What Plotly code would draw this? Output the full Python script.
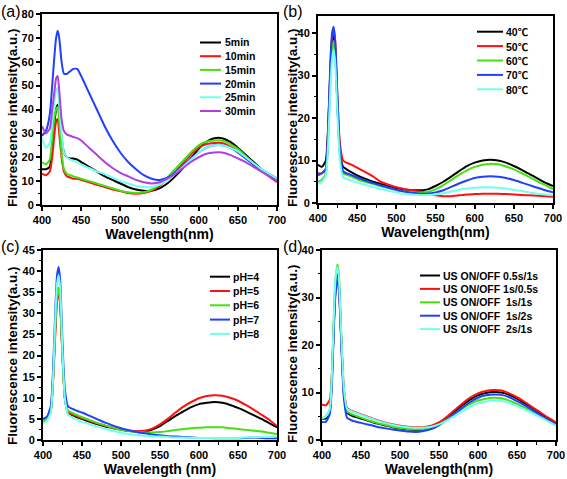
import plotly.graph_objects as go

W, H = 567, 479

# ---------------- data ----------------
wavelength = [400, 405, 410, 413, 416, 418, 420, 422, 425, 428, 432, 436, 440, 445, 450,
              460, 470, 480, 490, 500, 510, 520, 530, 540, 550, 560, 570, 580, 590, 600,
              610, 620, 630, 640, 650, 660, 670, 680, 690, 700]

# (a) reaction time
a_labels = ["5min", "10min", "15min", "20min", "25min", "30min"]
a_5min = [15, 15, 16, 25, 35, 40, 42, 38, 28, 22, 20, 19.5, 19.5, 19, 18,
          16, 14, 12, 10.5, 9, 7.5, 6.5, 6, 6, 7, 9, 12, 15.5, 19.5, 23.5,
          26.5, 28, 28, 26.5, 24, 21, 18, 15, 13, 11]
a_10min = [13, 12.5, 14, 20, 30, 35, 36, 30, 20, 14, 12, 11.5, 11, 11, 10.5,
           9.5, 8.5, 7.5, 6.5, 5.8, 5, 4.7, 5, 6, 8, 11, 14, 17.5, 21, 24,
           25.5, 26, 26, 24.5, 22.5, 20, 17, 14.5, 12, 9.5]
a_15min = [18, 17, 19, 28, 37, 40, 41, 35, 22, 15, 13, 12.5, 12, 11.5, 11,
           10, 9, 8, 7, 6, 5.3, 5, 5.3, 6.5, 8.5, 11.5, 15, 18.5, 22, 25,
           26.5, 27, 27, 25.5, 23.5, 20.5, 17.5, 15, 12.5, 10.5]
a_20min = [29, 31, 38, 50, 63, 70, 73, 70, 60, 55, 55, 56, 57, 57, 54,
           47, 40, 33, 27, 22, 18, 15, 12.5, 11, 10.5, 11.5, 13.5, 16.5, 19.5, 22,
           24, 25, 25, 24, 22, 19.5, 17, 14.5, 12.5, 10.5]
a_25min = [28, 24, 26, 35, 44, 48, 49, 42, 30, 22, 20, 19, 18.5, 18, 17,
           15.5, 14, 13, 11.5, 10, 9, 8, 7.5, 7.5, 8.5, 10.5, 13, 16, 19, 22,
           24, 25, 25, 24, 22.5, 20, 17.5, 15, 13, 11]
a_30min = [33, 30, 32, 40, 48, 53, 54, 48, 36, 31, 29.5, 29, 28.5, 28, 27,
           24, 21, 18, 15.5, 13.5, 12, 10.5, 9.5, 9, 9.5, 11, 13, 15.5, 18, 20,
           21.5, 22, 22, 21, 19.5, 18, 16, 14, 12, 10]
a_series = [a_5min, a_10min, a_15min, a_20min, a_25min, a_30min]

# (b) temperature
b_labels = ["40℃", "50℃", "60℃", "70℃", "80℃"]
b_40 = [9, 8.5, 10, 18, 32, 38, 40, 36, 22, 12, 8.5, 8, 7.5, 7, 6.5,
        5.7, 5, 4.5, 4, 3.5, 3.2, 3, 3, 3.2, 4, 5, 6.2, 7.5, 8.7, 9.5,
        10, 10.2, 10, 9.5, 8.7, 7.8, 6.8, 5.8, 4.8, 4]
b_50 = [7, 7, 8, 17, 33, 39, 41, 38, 24, 14, 10, 9.5, 9.2, 8.8, 8.3,
        7.3, 6.3, 5, 4.3, 3.7, 3.3, 3, 2.7, 2.3, 1.8, 1.6, 1.6, 1.8, 2, 2.1,
        2.2, 2.2, 2.2, 2.1, 2, 1.9, 1.8, 1.7, 1.6, 1.5]
b_60 = [5, 5.5, 7, 15, 30, 36, 38, 35, 22, 11, 7, 6.7, 6.4, 6, 5.6,
        5, 4.5, 4, 3.5, 3, 2.7, 2.5, 2.4, 2.6, 3.2, 4.2, 5.4, 6.6, 7.7, 8.5,
        9, 9.2, 9.1, 8.6, 7.9, 7, 6.1, 5.1, 4.2, 3.3]
b_70 = [6.5, 7, 8, 18, 34, 40, 41.5, 38, 24, 12, 7.5, 7, 6.8, 6.4, 6,
        5.3, 4.7, 4.1, 3.6, 3.1, 2.7, 2.4, 2.2, 2.2, 2.5, 3, 3.8, 4.6, 5.3, 5.9,
        6.2, 6.3, 6.2, 5.9, 5.4, 4.8, 4.2, 3.6, 3, 2.5]
b_80 = [4.5, 5, 6.5, 14, 28, 34, 36, 33, 20, 10, 6, 5.7, 5.4, 5.1, 4.8,
        4.3, 3.8, 3.3, 2.9, 2.5, 2.2, 2, 1.9, 1.9, 2, 2.3, 2.7, 3.1, 3.4, 3.6,
        3.7, 3.7, 3.6, 3.4, 3.1, 2.8, 2.5, 2.2, 2, 1.8]
b_series = [b_40, b_50, b_60, b_70, b_80]

# (c) pH
c_labels = ["pH=4", "pH=5", "pH=6", "pH=7", "pH=8"]
c_ph4 = [4.5, 5, 7, 15, 28, 34, 36, 33, 20, 10, 6.5, 6, 5.7, 5.3, 5,
         4.3, 3.7, 3.2, 2.8, 2.4, 2.1, 2, 2, 2.5, 3.3, 4.5, 5.7, 6.8, 7.8, 8.5,
         8.8, 9, 8.8, 8.3, 7.6, 6.8, 5.9, 5, 4, 3]
c_ph5 = [4.5, 5, 7, 14, 26, 33, 35, 32, 20, 10, 6.5, 6.2, 5.9, 5.5, 5.2,
         4.5, 3.9, 3.4, 2.9, 2.5, 2.2, 2.1, 2.2, 2.7, 3.7, 5, 6.5, 7.9, 9, 9.9,
         10.4, 10.6, 10.5, 10, 9.3, 8.3, 7.2, 6, 4.8, 3.3]
c_ph6 = [4.5, 5, 7, 15, 28, 34, 36, 33, 20, 10, 7, 6.6, 6.2, 5.8, 5.4,
         4.7, 4, 3.4, 2.9, 2.4, 2.1, 1.9, 1.8, 1.8, 1.9, 2.1, 2.4, 2.6, 2.8, 2.9,
         3, 3, 3, 2.8, 2.6, 2.4, 2.2, 2, 1.7, 1.4]
c_ph7 = [5, 5.5, 8, 17, 32, 39, 41, 38, 23, 12, 8, 7.5, 7.2, 6.8, 6.5,
         5.7, 4.9, 4.1, 3.4, 2.8, 2.3, 1.9, 1.6, 1.3, 1.1, 0.9, 0.8, 0.7, 0.6, 0.5,
         0.5, 0.4, 0.4, 0.4, 0.4, 0.5, 0.6, 0.5, 0.4, 0.4]
c_ph8 = [4, 4.5, 6.5, 15, 30, 37, 39, 36, 21, 10, 6, 5.5, 5.1, 4.7, 4.3,
         3.7, 3.1, 2.6, 2.1, 1.7, 1.4, 1.2, 1, 0.9, 0.8, 0.7, 0.6, 0.6, 0.5, 0.5,
         0.5, 0.5, 0.5, 0.5, 0.5, 0.6, 0.7, 0.7, 0.7, 0.8]
c_series = [c_ph4, c_ph5, c_ph6, c_ph7, c_ph8]

# (d) ultrasound on/off
d_labels = ["US ON/OFF 0.5s/1s", "US ON/OFF 1s/0.5s", "US ON/OFF \u00a01s/1s",
            "US ON/OFF \u00a01s/2s", "US ON/OFF \u00a02s/1s"]
d_05_1 = [4.5, 4.5, 6, 14, 28, 33, 35, 32, 20, 10, 5.8, 5.3, 5, 4.8, 4.5,
          4, 3.5, 3.1, 2.7, 2.4, 2.2, 2.1, 2.2, 2.6, 3.4, 4.6, 6, 7.3, 8.5, 9.4,
          9.9, 10.1, 10, 9.5, 8.7, 7.7, 6.7, 5.6, 4.5, 3.5]
d_1_05 = [7.5, 7.3, 8.5, 15, 28, 33, 34, 31, 20, 11, 6.8, 6.3, 6, 5.7, 5.4,
          4.8, 4.2, 3.7, 3.3, 3, 2.8, 2.7, 2.7, 3, 3.7, 4.9, 6.3, 7.7, 8.9, 9.8,
          10.3, 10.5, 10.4, 9.8, 9, 8, 6.9, 5.8, 4.7, 3.7]
d_1_1 = [4.5, 5, 6.5, 15, 30, 35, 37, 34, 21, 10, 6, 5.6, 5.3, 5, 4.7,
         4.1, 3.6, 3.2, 2.8, 2.5, 2.3, 2.2, 2.3, 2.6, 3.3, 4.3, 5.5, 6.6, 7.6, 8.3,
         8.7, 8.9, 8.8, 8.3, 7.6, 6.8, 5.9, 5, 4.1, 3.2]
d_1_2 = [3.8, 3.8, 5.5, 13, 27, 32, 34, 31, 19, 9, 4.7, 4.3, 4, 3.8, 3.6,
         3.2, 2.8, 2.5, 2.2, 2, 1.8, 1.7, 1.9, 2.3, 3.1, 4.2, 5.5, 6.8, 8, 8.9,
         9.4, 9.6, 9.5, 9, 8.2, 7.3, 6.3, 5.2, 4.2, 3.2]
d_2_1 = [4.5, 5, 6.5, 15, 30, 35, 36.5, 33, 21, 11, 6.6, 6.2, 5.9, 5.6, 5.3,
         4.7, 4.1, 3.6, 3.2, 2.9, 2.7, 2.6, 2.6, 2.8, 3.3, 4.1, 5.1, 6.1, 7, 7.7,
         8.1, 8.3, 8.2, 7.8, 7.2, 6.4, 5.6, 4.8, 3.9, 3]
d_series = [d_05_1, d_1_05, d_1_1, d_1_2, d_2_1]

x_ticks = [400, 450, 500, 550, 600, 650, 700]
y_title = "Fluorescence intensity(a.u.)"

# ---------------- style ----------------
COLORS6 = ["#000000", "#ff1010", "#44e010", "#2040ff", "#70fff0", "#b040e0"]
COLORS5 = ["#000000", "#ff1010", "#44e010", "#2040ff", "#70fff0"]
FONT = "Liberation Sans, Arial, Noto Sans CJK SC, sans-serif"

def px_x(p):
    return p / W

def px_y(p):
    return 1 - p / H

def legend_text(s):
    # render the degree-Celsius sign with a CJK font like the original figure
    return s.replace("℃", "<span style='font-family:Noto Sans CJK SC'>℃</span>")

panels = [
    dict(series=a_series, labels=a_labels, colors=COLORS6, xd=(42, 277), yd=(14, 205),
         yr=(0, 80), dt=10, mdt=5, xt="Wavelength(nm)", letter="(a)", lp=(0, 11),
         yt=(12, 118),
         leg=dict(x0=200, x1=221, tx=223, y0=42.5, dy=13.7)),
    dict(series=b_series, labels=b_labels, colors=COLORS5, xd=(318, 553), yd=(16, 203),
         yr=(0, 44), dt=10, mdt=5, xt="Wavelength(nm)", letter="(b)", lp=(282, 11),
         yt=(292, 118),
         leg=dict(x0=477, x1=503, tx=504, y0=31.7, dy=14.4)),
    dict(series=c_series, labels=c_labels, colors=COLORS5, xd=(43, 277), yd=(250, 440),
         yr=(0, 45), dt=5, mdt=2.5, xt="Wavelength (nm)", letter="(c)", lp=(0, 246),
         yt=(12, 356),
         leg=dict(x0=210, x1=230, tx=231, y0=276.7, dy=14.3)),
    dict(series=d_series, labels=d_labels, colors=COLORS5, xd=(322, 556), yd=(250, 440),
         yr=(0, 40), dt=10, mdt=5, xt="Wavelength(nm)", letter="(d)", lp=(282, 246),
         yt=(292, 354),
         leg=dict(x0=420, x1=440, tx=441, y0=275.5, dy=13.4)),
]

fig = go.Figure()
layout = dict(width=W, height=H, margin=dict(l=0, r=0, t=0, b=0, autoexpand=False),
              paper_bgcolor="white", plot_bgcolor="white", showlegend=False,
              font=dict(family=FONT, color="black"))
annotations = []
shapes = []

for i, p in enumerate(panels):
    n = i + 1
    xa = "x" if n == 1 else f"x{n}"
    ya = "y" if n == 1 else f"y{n}"
    for vals, lab, col in zip(p["series"], p["labels"], p["colors"]):
        fig.add_trace(go.Scatter(x=wavelength, y=vals, name=lab, mode="lines",
                                 line=dict(color=col, width=2, shape="spline", smoothing=0.5),
                                 xaxis=xa, yaxis=ya))
    axis_common = dict(showline=True, linecolor="black", linewidth=2, mirror=True,
                       ticks="outside", ticklen=4, tickwidth=1.5, tickcolor="black",
                       showgrid=False, zeroline=False, automargin=False,
                       tickfont=dict(family=FONT, size=11, weight="bold"))
    layout["xaxis" if n == 1 else f"xaxis{n}"] = dict(
        axis_common, domain=[px_x(p["xd"][0]), px_x(p["xd"][1])], range=[400, 700],
        tickvals=x_ticks, anchor=ya,
        minor=dict(dtick=25, ticklen=2.5, tickwidth=1.2, ticks="outside", tickcolor="black", showgrid=False),
        title=dict(text=p["xt"], font=dict(family=FONT, size=14, weight="bold"), standoff=0))
    layout["yaxis" if n == 1 else f"yaxis{n}"] = dict(
        axis_common, domain=[px_y(p["yd"][1]), px_y(p["yd"][0])], range=list(p["yr"]),
        dtick=p["dt"], tick0=0, anchor=xa,
        minor=dict(dtick=p["mdt"], ticklen=2.5, tickwidth=1.2, ticks="outside", tickcolor="black", showgrid=False))
    annotations.append(dict(text=y_title, xref="paper", yref="paper", textangle=-90,
                            x=px_x(p["yt"][0]), y=px_y(p["yt"][1]), xanchor="center", yanchor="middle",
                            showarrow=False, font=dict(family=FONT, size=13.5, weight="bold", color="black")))
    annotations.append(dict(text=p["letter"], xref="paper", yref="paper",
                            x=px_x(p["lp"][0]), y=px_y(p["lp"][1]), xanchor="left", yanchor="middle",
                            showarrow=False, borderpad=0,
                            font=dict(family=FONT, size=16, color="black")))
    lg = p["leg"]
    for k, (lab, col) in enumerate(zip(p["labels"], p["colors"])):
        yy = px_y(lg["y0"] + k * lg["dy"])
        shapes.append(dict(type="line", xref="paper", yref="paper",
                           x0=px_x(lg["x0"]), x1=px_x(lg["x1"]), y0=yy, y1=yy,
                           line=dict(color=col, width=2)))
        annotations.append(dict(text=legend_text(lab), xref="paper", yref="paper", x=px_x(lg["tx"]), y=yy,
                                xanchor="left", yanchor="middle", showarrow=False,
                                font=dict(family=FONT, size=10.5, weight="bold", color="black")))

layout["annotations"] = annotations
layout["shapes"] = shapes
fig.update_layout(**layout)
fig.write_html("out.html", config={"displayModeBar": False},
               post_script="document.body.style.margin='0';document.body.style.padding='0';"
                           "document.body.style.overflow='hidden';")
